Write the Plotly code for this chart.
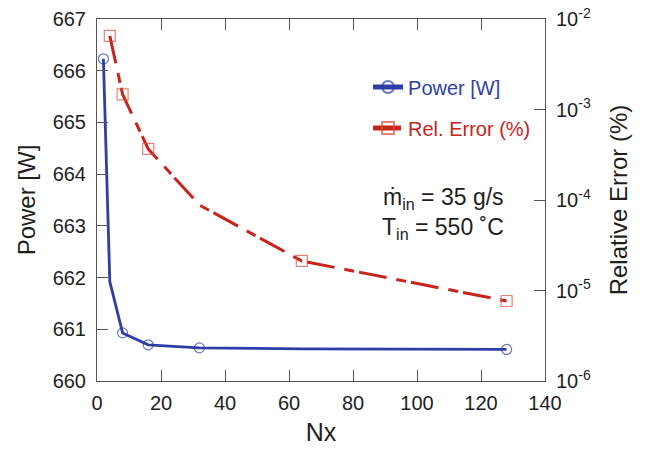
import plotly.graph_objects as go

nx = [2, 4, 8, 16, 32, 64, 128]
power = [666.23, 661.92, 660.93, 660.70, 660.64, 660.62, 660.61]
power_marked = [1, 0, 1, 1, 1, 0, 1]

nx_err = [4, 8, 16, 32, 64, 128]
rel_err = [6.5e-3, 1.47e-3, 3.67e-4, 8.8e-5, 2.12e-5, 7.66e-6]
err_marked = [1, 1, 1, 0, 1, 1]

x_ticks = [0, 20, 40, 60, 80, 100, 120, 140]
y_ticks = [660, 661, 662, 663, 664, 665, 666, 667]
y2_ticks = [1e-6, 1e-5, 1e-4, 1e-3, 1e-2]
y2_text = ["10<sup>-6</sup>", "10<sup>-5</sup>", "10<sup>-4</sup>", "10<sup>-3</sup>", "10<sup>-2</sup>"]

FONT = "Liberation Sans, Arial, sans-serif"
BLUE = "#2E3EA6"
RED = "#C8241C"
RED_M = "#DD4A40"
AX = "#555555"
TXT = "#1e1e1e"

fig = go.Figure()
fig.add_trace(go.Scatter(
    x=nx, y=power, mode="lines+markers",
    name=f"<span style='color:{BLUE}'>Power [W]</span>",
    line=dict(color=BLUE, width=2.8),
    marker=dict(symbol="circle-open", size=[10 * m for m in power_marked], color=BLUE,
                line=dict(width=1.2, color=BLUE)),
    legendgroup="a", yaxis="y"))
fig.add_trace(go.Scatter(
    x=nx_err, y=rel_err, mode="lines+markers",
    name=f"<span style='color:{RED}'>Rel. Error (%)</span>",
    line=dict(color=RED, width=3, dash="28px,10px,10px,5px"),
    marker=dict(symbol="square-open", size=[11 * m for m in err_marked], color=RED_M,
                line=dict(width=1.2, color=RED_M)),
    legendgroup="b", yaxis="y2"))

fig.update_layout(
    width=652, height=450,
    margin=dict(l=97, r=107, t=19, b=69, autoexpand=False),
    paper_bgcolor="white", plot_bgcolor="white",
    font=dict(family=FONT, size=20, color=TXT),
    showlegend=True,
    legend=dict(x=0.605, y=0.866, xanchor="left", yanchor="top",
                bgcolor="rgba(0,0,0,0)", font=dict(size=20),
                tracegroupgap=12, traceorder="grouped", itemsizing="constant"),
    xaxis=dict(range=[0, 140], tickvals=x_ticks, ticks="inside", ticklen=11,
               tickcolor=AX, linecolor=AX, linewidth=1, showline=True, mirror="ticks",
               showgrid=False, zeroline=False, ticklabelstandoff=4, automargin=False,
               title=dict(text="Nx", font=dict(size=25), standoff=10)),
    yaxis=dict(range=[660, 667], tickvals=y_ticks, ticks="inside", ticklen=11,
               tickcolor=AX, linecolor=AX, linewidth=1, showline=True, mirror=True,
               showgrid=False, zeroline=False, ticklabelstandoff=6, automargin=False,
               title=dict(text="Power [W]", font=dict(size=24), standoff=10)),
    yaxis2=dict(type="log", range=[-6, -2], overlaying="y", side="right",
                tickvals=y2_ticks, ticktext=y2_text, ticks="inside", ticklen=11,
                tickcolor=AX, linecolor=AX, showline=False, showgrid=False, zeroline=False,
                ticklabelstandoff=10, automargin=False,
                title=dict(text="Relative Error (%)", font=dict(size=24), standoff=20)),
)

fig.add_annotation(x=(443 - 97) / 3.2, y=(381 - 198) / 362, xref="x", yref="paper",
                   showarrow=False, text="ṁ<sub>in</sub> = 35 g/s",
                   font=dict(size=23, color=TXT))
fig.add_annotation(x=(443 - 97) / 3.2, y=(381 - 228) / 362, xref="x", yref="paper",
                   showarrow=False, text="T<sub>in</sub> = 550 ˚C",
                   font=dict(size=23, color=TXT))

fig.write_html("out.html")
